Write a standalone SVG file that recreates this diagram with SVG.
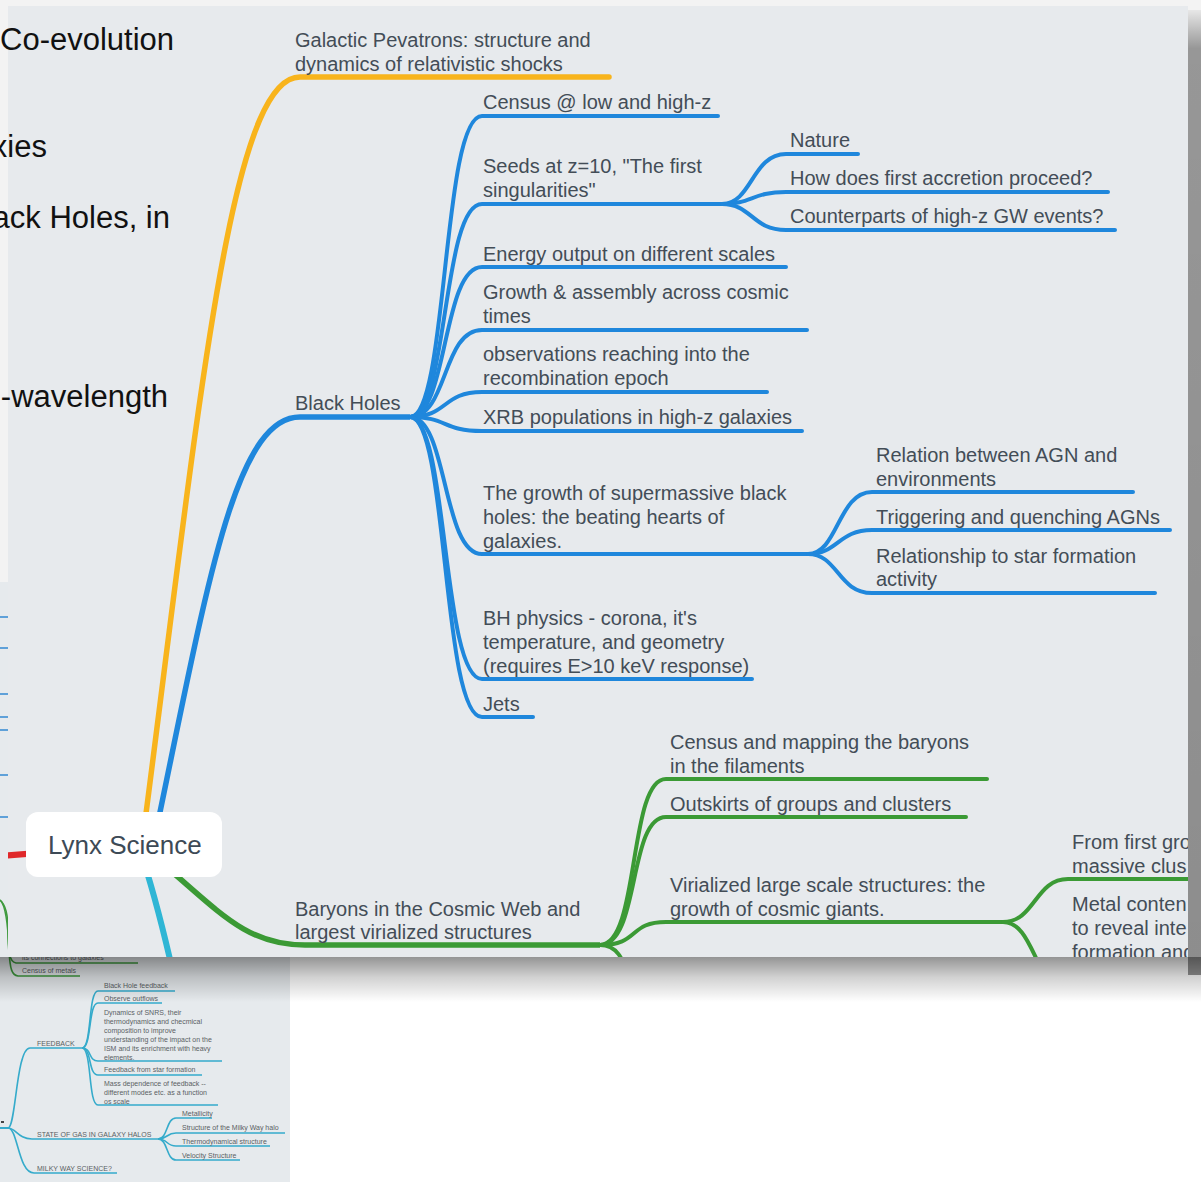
<svg xmlns="http://www.w3.org/2000/svg" width="1201" height="1182" viewBox="0 0 1201 1182">
<style>
.t{font-family:"Liberation Sans",Arial,sans-serif;font-size:20px;fill:#434d57}
.big{font-family:"Liberation Sans",Arial,sans-serif;font-size:31px;fill:#111}
.s{font-family:"Liberation Sans",Arial,sans-serif;font-size:7px;fill:#5a5f64}
.b{fill:none;stroke:#1f87dc;stroke-width:4;stroke-linecap:round}
.g{fill:none;stroke:#3b9a35;stroke-width:4;stroke-linecap:round}
.sg{fill:none;stroke:#3f9a3e;stroke-width:1.6}
.sc{fill:none;stroke:#35abcb;stroke-width:1.6}
.sb{fill:none;stroke:#3d8fd3;stroke-width:1.6}
</style>
<defs>
<clipPath id="panel"><rect x="8" y="6" width="1180" height="951"/></clipPath>
<clipPath id="small"><rect x="0" y="582" width="290" height="600"/></clipPath>
<linearGradient id="shB" x1="0" y1="0" x2="0" y2="1">
<stop offset="0" stop-color="#000" stop-opacity="0.42"/>
<stop offset="0.45" stop-color="#000" stop-opacity="0.18"/>
<stop offset="1" stop-color="#000" stop-opacity="0"/>
</linearGradient>
<linearGradient id="shR" x1="0" y1="0" x2="0" y2="1">
<stop offset="0" stop-color="#000" stop-opacity="0.05"/>
<stop offset="0.04" stop-color="#000" stop-opacity="0.38"/>
<stop offset="1" stop-color="#000" stop-opacity="0.42"/>
</linearGradient>
</defs>

<!-- background -->
<rect x="0" y="0" width="1201" height="1182" fill="#ffffff"/>
<rect x="0" y="0" width="1201" height="957" fill="#f3f3f3"/>

<!-- small mind map behind -->
<g id="small-map" clip-path="url(#small)">
<rect x="0" y="582" width="290" height="600" fill="#e6eaed"/>
<g id="small-fragments">
<line class="sb" x1="0" y1="617" x2="10" y2="617"/>
<line class="sb" x1="0" y1="648" x2="10" y2="648"/>
<line class="sb" x1="0" y1="694" x2="10" y2="694"/>
<line class="sb" x1="0" y1="717" x2="10" y2="717"/>
<line class="sb" x1="0" y1="730" x2="10" y2="730"/>
<line class="sb" x1="0" y1="775" x2="10" y2="775"/>
<line class="sb" x1="0" y1="817" x2="10" y2="817"/>
<path class="sg" d="M0 900 C6 905 8 915 8 930 C8 950 9 962 16 963 L138 963"/>
<path class="sg" d="M0 900 C6 905 8 925 9 950 C10 970 12 975 18 976 L80 976"/>
</g>
<text class="s" x="22" y="960">its connections to galaxies</text>
<text class="s" x="22" y="973">Census of metals</text>
<g id="feedback">
<path class="sc" d="M0 1128 L8 1128 C16 1128 16 1048 30 1048 L82 1048"/>
<text class="s" x="37" y="1046">FEEDBACK</text>
<path class="sc" d="M82 1048 C92 1048 88 991 98 991 L175 991"/>
<path class="sc" d="M82 1048 C92 1048 88 1003 98 1003 L162 1003"/>
<path class="sc" d="M82 1048 C92 1048 88 1061 98 1061 L222 1061"/>
<path class="sc" d="M82 1048 C92 1048 88 1075 98 1075 L202 1075"/>
<path class="sc" d="M82 1048 C92 1048 88 1105 98 1105 L218 1105"/>
<text class="s" x="104" y="988">Black Hole feedback</text>
<text class="s" x="104" y="1001">Observe outflows</text>
<text class="s" x="104" y="1015">Dynamics of SNRS, their</text>
<text class="s" x="104" y="1024">thermodynamics and checmical</text>
<text class="s" x="104" y="1033">composition to improve</text>
<text class="s" x="104" y="1042">understanding of the impact on the</text>
<text class="s" x="104" y="1051">ISM and its enrichment with heavy</text>
<text class="s" x="104" y="1060">elements.</text>
<text class="s" x="104" y="1072">Feedback from star formation</text>
<text class="s" x="104" y="1086">Mass dependence of feedback --</text>
<text class="s" x="104" y="1095">different modes etc. as a function</text>
<text class="s" x="104" y="1104">os scale</text>
</g>
<g id="halos">
<rect x="1" y="1121" width="3" height="2" fill="#444"/>
<path class="sc" d="M0 1128 L8 1128 C16 1128 18 1139 32 1139 L158 1139"/>
<text class="s" x="37" y="1137">STATE OF GAS IN GALAXY HALOS</text>
<path class="sc" d="M158 1139 C168 1139 166 1118 176 1118 L212 1118"/>
<path class="sc" d="M158 1139 C168 1139 166 1133 176 1133 L285 1133"/>
<path class="sc" d="M158 1139 C168 1139 166 1146 176 1146 L270 1146"/>
<path class="sc" d="M158 1139 C168 1139 166 1160 176 1160 L240 1160"/>
<text class="s" x="182" y="1116">Metallicity</text>
<text class="s" x="182" y="1130">Structure of the Milky Way halo</text>
<text class="s" x="182" y="1144">Thermodynamical structure</text>
<text class="s" x="182" y="1158">Velocity Structure</text>
<path class="sc" d="M0 1128 L8 1128 C18 1128 18 1173 34 1173 L117 1173"/>
<text class="s" x="37" y="1171">MILKY WAY SCIENCE?</text>
</g>
</g>

<!-- shadows of main screenshot -->
<rect x="1188" y="10" width="13" height="965" fill="url(#shR)"/>
<rect x="0" y="957" width="1201" height="45" fill="url(#shB)"/>

<!-- main panel -->
<rect x="8" y="6" width="1180" height="951" fill="#e7eaed"/>

<g clip-path="url(#panel)">
<g id="connectors">
<path d="M140 845 L0 856" fill="none" stroke="#e0282a" stroke-width="6"/>
<path d="M140 850 C150 880 165 935 178 995" fill="none" stroke="#2fb6d5" stroke-width="6"/>
<path d="M140 860 C200 400 230 77 300 77 L609 77" fill="none" stroke="#f8b41c" stroke-width="5.5" stroke-linecap="round"/>
<path d="M150 860 C205 600 232 417 300 417 L410 417" fill="none" stroke="#1f87dc" stroke-width="5.5"/>
<path d="M140 845 C215 905 240 945 305 945 L600 945" fill="none" stroke="#3b9a35" stroke-width="5.5"/>
<!-- Black Holes children -->
<path class="b" d="M410 417 C448 417 442 116 482 116 L718 116"/>
<path class="b" d="M410 417 C448 417 442 204 482 204 L722 204"/>
<path class="b" d="M410 417 C448 417 442 267 482 267 L786 267"/>
<path class="b" d="M410 417 C448 417 442 330 482 330 L807 330"/>
<path class="b" d="M410 417 C448 417 442 392 482 392 L767 392"/>
<path class="b" d="M410 417 C448 417 442 431 482 431 L802 431"/>
<path class="b" d="M410 417 C448 417 442 554 482 554 L808 554"/>
<path class="b" d="M410 417 C448 417 442 679 482 679 L752 679"/>
<path class="b" d="M410 417 C448 417 442 717 482 717 L533 717"/>
<!-- Seeds children -->
<path class="b" d="M722 204 C752 204 752 154 786 154 L858 154"/>
<path class="b" d="M722 204 C752 204 752 192 786 192 L1108 192"/>
<path class="b" d="M722 204 C752 204 752 230 786 230 L1115 230"/>
<!-- SMBH children -->
<path class="b" d="M808 554 C838 554 838 492 872 492 L1133 492"/>
<path class="b" d="M808 554 C838 554 838 530 872 530 L1170 530"/>
<path class="b" d="M808 554 C838 554 838 593 872 593 L1155 593"/>
<!-- Baryons children -->
<path class="g" d="M600 945 C640 945 628 779 666 779 L987 779"/>
<path class="g" d="M600 945 C640 945 628 817 666 817 L966 817"/>
<path class="g" d="M600 945 C640 945 628 922 666 922 L1003 922"/>
<path class="g" d="M600 945 C625 945 625 975 640 1000"/>
<!-- Virialized children -->
<path class="g" d="M1003 922 C1035 922 1035 879 1068 879 L1200 879"/>
<path class="g" d="M1003 922 C1035 922 1035 990 1068 990"/>
</g>

<g id="node-pevatrons"><text class="t" x="295" y="47">Galactic Pevatrons: structure and</text><text class="t" x="295" y="71">dynamics of relativistic shocks</text></g>
<g id="node-blackholes"><text class="t" x="295" y="410">Black Holes</text></g>
<g id="node-census"><text class="t" x="483" y="109">Census @ low and high-z</text></g>
<g id="node-seeds"><text class="t" x="483" y="173">Seeds at z=10, "The first</text><text class="t" x="483" y="197">singularities"</text></g>
<g id="node-nature"><text class="t" x="790" y="147">Nature</text></g>
<g id="node-accretion"><text class="t" x="790" y="185">How does first accretion proceed?</text></g>
<g id="node-gw"><text class="t" x="790" y="223">Counterparts of high-z GW events?</text></g>
<g id="node-energy"><text class="t" x="483" y="261">Energy output on different scales</text></g>
<g id="node-growth"><text class="t" x="483" y="299">Growth &amp; assembly across cosmic</text><text class="t" x="483" y="323">times</text></g>
<g id="node-recomb"><text class="t" x="483" y="361">observations reaching into the</text><text class="t" x="483" y="385">recombination epoch</text></g>
<g id="node-xrb"><text class="t" x="483" y="424">XRB populations in high-z galaxies</text></g>
<g id="node-smbh"><text class="t" x="483" y="500">The growth of supermassive black</text><text class="t" x="483" y="524">holes: the beating hearts of</text><text class="t" x="483" y="548">galaxies.</text></g>
<g id="node-agnenv"><text class="t" x="876" y="462">Relation between AGN and</text><text class="t" x="876" y="486">environments</text></g>
<g id="node-trigger"><text class="t" x="876" y="524">Triggering and quenching AGNs</text></g>
<g id="node-sf"><text class="t" x="876" y="563">Relationship to star formation</text><text class="t" x="876" y="586">activity</text></g>
<g id="node-bhphys"><text class="t" x="483" y="625">BH physics - corona, it's</text><text class="t" x="483" y="649">temperature, and geometry</text><text class="t" x="483" y="673">(requires E&gt;10 keV response)</text></g>
<g id="node-jets"><text class="t" x="483" y="711">Jets</text></g>
<g id="node-mapping"><text class="t" x="670" y="749">Census and mapping the baryons</text><text class="t" x="670" y="773">in the filaments</text></g>
<g id="node-outskirts"><text class="t" x="670" y="811">Outskirts of groups and clusters</text></g>
<g id="node-virialized"><text class="t" x="670" y="892">Virialized large scale structures: the</text><text class="t" x="670" y="916">growth of cosmic giants.</text></g>
<g id="node-firstgroups"><text class="t" x="1072" y="849">From first gro</text><text class="t" x="1072" y="873">massive clus</text></g>
<g id="node-metal"><text class="t" x="1072" y="911">Metal conten</text><text class="t" x="1072" y="935">to reveal inte</text><text class="t" x="1072" y="959">formation and</text></g>
<g id="node-baryons"><text class="t" x="295" y="916">Baryons in the Cosmic Web and</text><text class="t" x="295" y="939">largest virialized structures</text></g>

<g id="node-root">
<rect x="26" y="812" width="196" height="65" rx="12" fill="#ffffff"/>
<text x="48" y="854" style="font-family:'Liberation Sans',Arial,sans-serif;font-size:26px;fill:#3d4a56">Lynx Science</text>
</g>
</g>

<!-- slide text on the left -->
<g id="slide-text">
<text class="big" x="0" y="50">Co-evolution</text>
<text class="big" x="47" y="157" text-anchor="end">xies</text>
<text class="big" x="170" y="228" text-anchor="end">ack Holes, in</text>
<text class="big" x="168" y="407" text-anchor="end">-wavelength</text>
</g>
</svg>
